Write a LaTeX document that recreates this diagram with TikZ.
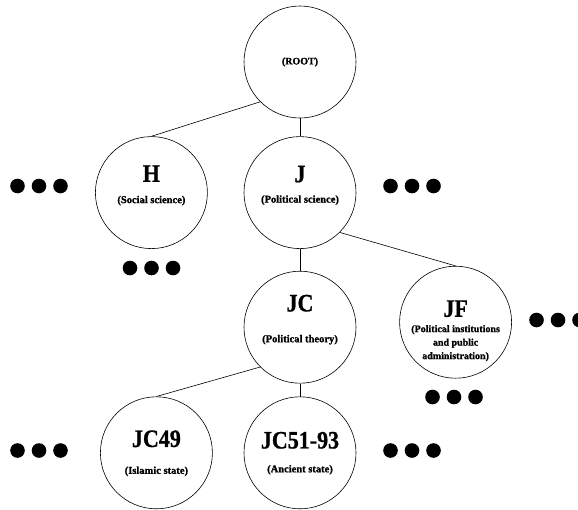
\documentclass[tikz,border=0pt]{standalone}
\usepackage{fontspec}
\setmainfont{Liberation Serif}
\newfontfamily\codefont[FakeStretch=0.88,FakeBold=0.8]{Liberation Serif}
\newfontfamily\captionfont[FakeBold=1.2]{Liberation Serif}
\usetikzlibrary{positioning}
\tikzset{link/.style={line width=0.6pt}}
\tikzset{cls/.style={draw,circle,line width=0.6pt,minimum size=112pt,inner sep=0pt}}
\tikzset{code/.style={font=\codefont\bfseries\fontsize{25}{25}\selectfont,inner sep=0pt}}
\tikzset{caption/.style={font=\captionfont\bfseries\fontsize{10.5}{13.5}\selectfont,inner sep=0pt,align=center}}
\tikzset{more/.style={minimum width=60pt,minimum height=16pt,inner sep=0pt,
    path picture={\foreach \k in {-21.5,0,21.5}
        \fill ([xshift=\k pt]path picture bounding box.center) circle (7.3pt);}}}

\begin{document}
\begin{tikzpicture}[x=1pt,y=-1pt]
            \useasboundingbox (0,0) rectangle (578,509);
            \node[cls] (root) at (300,62) {};
            \node[cls,below=18pt of root] (j) {};
            \node[cls,left=36pt of j] (h) {};
            \node[cls,below=22pt of j] (jc) {};
            \node[cls,right=43pt of jc,yshift=5pt] (jf) {};
            \node[cls,below=13pt of jc] (jc51) {};
            \node[cls,left=31pt of jc51] (jc49) {};

            \node[caption,font=\captionfont\bfseries\fontsize{10}{12}\selectfont] (roott) at (root.center) {(ROOT)};
            \node[code] (hc) at ([yshift=19pt]h.center) {H};
            \node[caption] (ht) at ([yshift=-8pt]h.center) {(Social science)};
            \node[code] (jcode) at ([yshift=18.5pt]j.center) {J};
            \node[caption] (jt) at ([yshift=-7.5pt]j.center) {(Political science)};
            \node[code] (jcc) at ([yshift=24pt]jc.center) {JC};
            \node[caption] (jct) at ([yshift=-12.5pt]jc.center) {(Political theory)};
            \node[code] (jfc) at ([yshift=13.5pt]jf.center) {JF};
            \node[caption,font=\captionfont\bfseries\fontsize{10}{13.5}\selectfont] (jft) at ([yshift=-21pt]jf.center)
                {(Political institutions\\and public\\administration)};
            \node[code] (jc49c) at ([yshift=14pt]jc49.center) {JC49};
            \node[caption] (jc49t) at ([yshift=-18.5pt]jc49.center) {(Islamic state)};
            \node[code] (jc51c) at ([yshift=12.5pt]jc51.center) {JC51-93};
            \node[caption] (jc51t) at ([yshift=-17pt]jc51.center) {(Ancient state)};

            \node[more] (m1) at (39,186) {};
            \node[more] (m2) at (412,186) {};
            \node[more] (m3) at (151.5,268) {};
            \node[more] (m4) at (558,320) {};
            \node[more] (m5) at (454,397) {};
            \node[more] (m6) at (39,450.5) {};
            \node[more] (m7) at (412,450.5) {};

            \draw[link] (root.south west) to (h.north);
            \draw[link] (root.south) to (j.north);
            \draw[link] (j.south) to (jc.north);
            \draw[link] (j.south east) to (jf.north);
            \draw[link] (jc.south west) to (jc49.north);
            \draw[link] (jc.south) to (jc51.north);
        \end{tikzpicture}
\end{document}
